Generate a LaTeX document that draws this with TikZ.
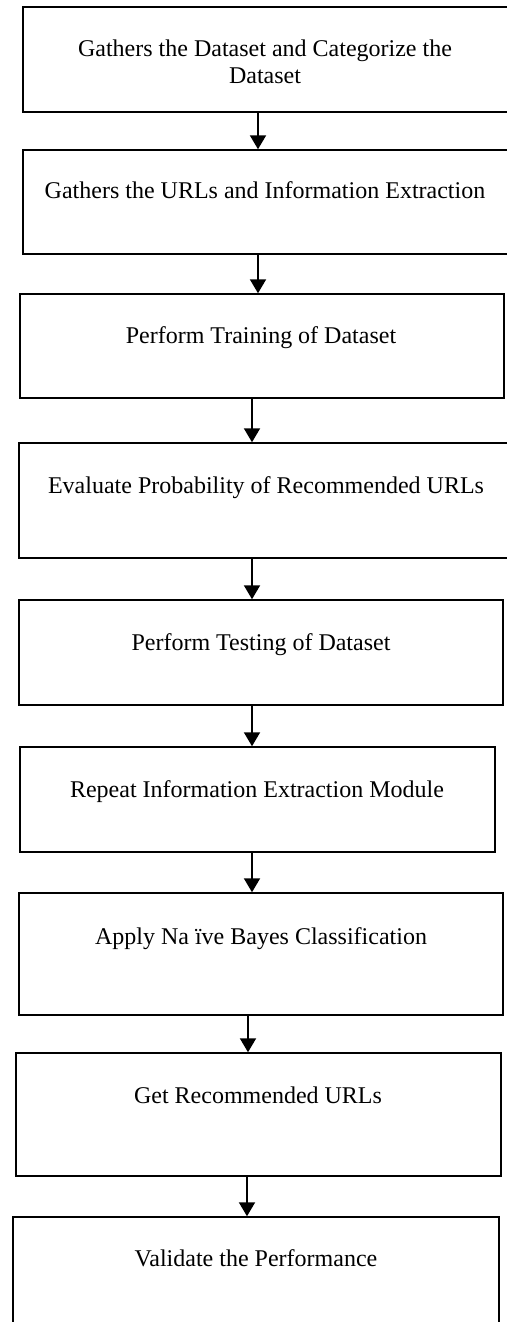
\documentclass[tikz,border=0pt]{standalone}
\usepackage{fontspec}
\setmainfont{Liberation Serif}
\usetikzlibrary{arrows.meta,fit}
\begin{document}
\begin{tikzpicture}[x=1pt,y=-1pt,
  boxnode/.style={draw=black,line width=1.5pt,inner sep=0pt,fill=none},
  lbl/.style={anchor=base,align=center,inner sep=0pt,font=\fontsize{24}{27}\selectfont},
  arr/.style={draw=black,line width=2pt,-{Triangle[width=16pt,length=14pt]}}]
\useasboundingbox (0,0) rectangle (506,1322);
\node[boxnode,fit={(23,7) (512,112)}] (b1) {};
\node[boxnode,fit={(23,150) (512,254)}] (b2) {};
\node[boxnode,fit={(20,294) (504,398)}] (b3) {};
\node[boxnode,fit={(19,443) (512,558)}] (b4) {};
\node[boxnode,fit={(19,600) (503,705)}] (b5) {};
\node[boxnode,fit={(20,747) (495,852)}] (b6) {};
\node[boxnode,fit={(19,893) (503,1015)}] (b7) {};
\node[boxnode,fit={(16,1053) (501,1176)}] (b8) {};
\node[boxnode,fit={(13,1217) (499,1340)}] (b9) {};
\node[lbl] (t1) at (265,84) {Gathers the Dataset and Categorize the\\Dataset};
\node[lbl] (t2) at (265,198) {Gathers the URLs and Information Extraction};
\node[lbl] (t3) at (261,343) {Perform Training of Dataset};
\node[lbl] (t4) at (266,493) {Evaluate Probability of Recommended URLs};
\node[lbl] (t5) at (261,650) {Perform Testing of Dataset};
\node[lbl] (t6) at (257,797) {Repeat Information Extraction Module};
\node[lbl] (t7) at (261,944) {Apply Na ïve Bayes Classification};
\node[lbl] (t8) at (258,1103) {Get Recommended URLs};
\node[lbl] (t9) at (256,1266) {Validate the Performance};
\draw[arr] (b1.south -| 258,0) -- (b2.north -| 258,0);
\draw[arr] (b2.south -| 258,0) -- (b3.north -| 258,0);
\draw[arr] (b3.south -| 252,0) -- (b4.north -| 252,0);
\draw[arr] (b4.south -| 252,0) -- (b5.north -| 252,0);
\draw[arr] (b5.south -| 252,0) -- (b6.north -| 252,0);
\draw[arr] (b6.south -| 252,0) -- (b7.north -| 252,0);
\draw[arr] (b7.south -| 248,0) -- (b8.north -| 248,0);
\draw[arr] (b8.south -| 247,0) -- (b9.north -| 247,0);
\end{tikzpicture}
\end{document}
